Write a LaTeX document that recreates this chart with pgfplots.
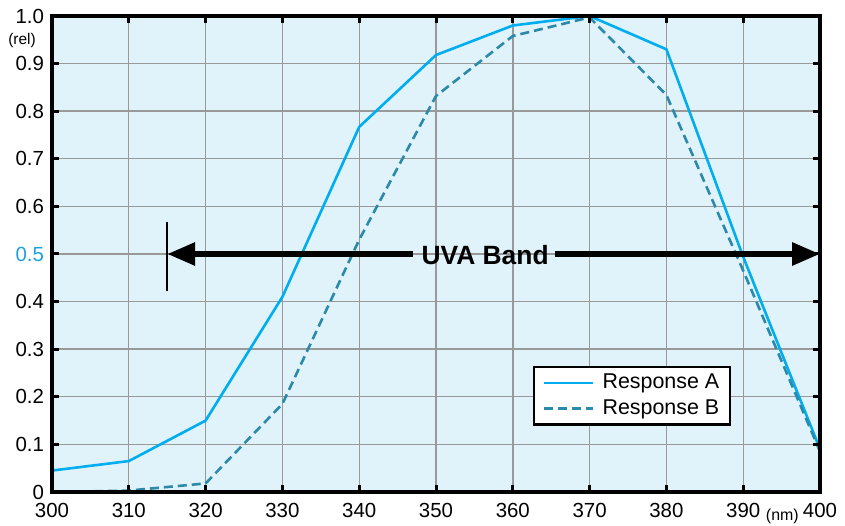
\documentclass[border=0pt]{standalone}
\usepackage{fontspec}
\setmainfont{Liberation Sans}
\usepackage{pgfplots}
\pgfplotsset{compat=1.18}
\usetikzlibrary{arrows.meta}
\definecolor{bgblue}{HTML}{E0F2FA}
\definecolor{respA}{HTML}{00AEEF}
\definecolor{respB}{HTML}{2B8AAA}
\definecolor{gridgray}{HTML}{999999}
\definecolor{tickblue}{HTML}{1BA1E2}
\pgfplotsset{
  common/.style={
    scale only axis, width=768bp, height=476bp,
    xmin=300, xmax=400, ymin=0, ymax=1,
    xtick={300,310,320,330,340,350,360,370,380,390,400},
    ytick={0,0.1,0.2,0.3,0.4,0.5,0.6,0.7,0.8,0.9,1.0},
    clip=false,
  }
}
\begin{document}
\fontsize{20.5}{23}\selectfont
\begin{tikzpicture}
\begin{axis}[
  common,
  xticklabels={300,310,320,330,340,350,360,370,380,390,400},
  yticklabels={0,0.1,0.2,0.3,0.4,\textcolor{tickblue}{0.5},0.6,0.7,0.8,0.9,1.0},
  /pgf/number format/assume math mode=true,
  tick label style={font=\fontsize{20.5}{23}\selectfont},
  xticklabel style={yshift=-4bp},
  yticklabel style={xshift=-1bp},
  axis background/.style={fill=bgblue},
  grid=major,
  major grid style={gridgray, line width=1.4bp},
  major tick length=0bp,
  legend cell align=left,
  legend style={at={(axis cs:362.6,0.265)}, anchor=north west, draw=black, line width=2.4bp, fill=white,
    font=\fontsize{21.5}{23}\selectfont, inner xsep=9bp, inner ysep=5bp, row sep=4bp, column sep=6bp},
  legend image code/.code={\draw[#1] (0bp,0bp) -- (49bp,0bp);},
]
\addplot[respA, line width=2.6bp] coordinates {
(300,0.045) (310,0.065) (320,0.15) (330,0.41) (340,0.767) (350,0.918) (360,0.98) (370,1.0) (380,0.93) (390,0.494) (400,0.09)
};
\addlegendentry{Response A}
\addplot[respB, line width=2.6bp, dash pattern=on 9bp off 5bp] coordinates {
(300,0) (310,0.003) (320,0.018) (330,0.185) (340,0.53) (350,0.832) (360,0.958) (370,0.997) (380,0.834) (390,0.465) (400,0.085)
};
\addlegendentry{Response B}
\draw[line width=6bp, -{Triangle[length=28bp,width=22bp]}] (axis cs:347,0.5) -- (axis cs:315,0.5);
\draw[line width=6bp, -{Triangle[length=28bp,width=22bp]}] (axis cs:365.5,0.5) -- (axis cs:400,0.5);
\draw[line width=2bp] (axis cs:315,0.422) -- (axis cs:315,0.567);
\node[font=\bfseries\fontsize{26.5}{28}\selectfont] at (axis cs:356.4,0.497) {UVA Band};
\node[font=\fontsize{15.5}{17}\selectfont, xshift=-30bp] at (axis cs:300,0.948) {(rel)};
\node[font=\fontsize{16}{17}\selectfont, anchor=base, yshift=-28bp] at (axis cs:395.1,0) {(nm)};
\end{axis}
\begin{axis}[
  common,
  xticklabels={}, yticklabels={},
  axis line style={line width=3.2bp, black},
  tick style={black, line width=3bp},
  major tick length=7bp,
  tick align=inside,
]
\end{axis}
\pgfresetboundingbox
\path[use as bounding box] ([shift={(-52bp,-34bp)}]current axis.south west) rectangle ([shift={(25bp,16bp)}]current axis.north east);
\end{tikzpicture}
\end{document}
